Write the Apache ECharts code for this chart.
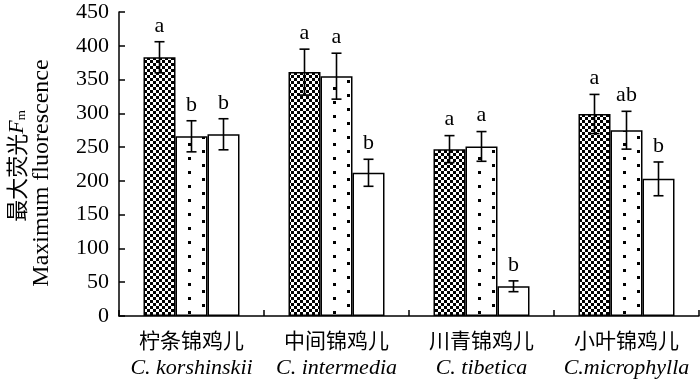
<!DOCTYPE html>
<html>
<head>
<meta charset="utf-8">
<script src="https://cdn.jsdelivr.net/npm/echarts@6/dist/echarts.min.js"></script>
<style>
  html, body { margin: 0; padding: 0; background: #fff; }
  #main { width: 700px; height: 384px; }
</style>
</head>
<body>
<div id="main"></div>
<script>
(function(){
  'use strict';

  // 数据
  var catCn = ['柠条锦鸡儿', '中间锦鸡儿', '川青锦鸡儿', '小叶锦鸡儿'];
  var catEn = ['C. korshinskii', 'C. intermedia', 'C. tibetica', 'C.microphylla'];
  var yTicks = [0, 50, 100, 150, 200, 250, 300, 350, 400, 450];

  var val1 = [383, 361, 247, 299];
  var val2 = [266, 355, 251, 275];
  var val3 = [269, 212, 44, 203];
  var err1 = [23, 34, 20, 29];
  var err2 = [23, 34, 22, 28];
  var err3 = [23, 20, 8, 25];
  var sig1 = ['a', 'a', 'a', 'a'];
  var sig2 = ['b', 'a', 'a', 'ab'];
  var sig3 = ['b', 'b', 'b', 'b'];

  var BAR_W = 32;
  var GRID_L = 119, GRID_R = 1;
  var FONT = 'Liberation Serif';

  // 填充图案
  function checkerPattern(){
    var c = document.createElement('canvas');
    c.width = 6; c.height = 6;
    var g = c.getContext('2d');
    g.fillStyle = '#fff';
    g.fillRect(0, 0, 6, 6);
    g.fillStyle = '#000';
    g.fillRect(0, 0, 3, 3);
    g.fillRect(3, 3, 3, 3);
    return c;
  }
  // 点阵：按每组柱子的位置对齐
  function dotPattern(x0){
    var c = document.createElement('canvas');
    c.width = 28; c.height = 14;
    var g = c.getContext('2d');
    g.fillStyle = '#fff';
    g.fillRect(0, 0, 28, 14);
    g.fillStyle = '#000';
    var a = ((x0 % 28) + 28) % 28;
    var b = (a + 14) % 28;
    g.fillRect(a, 3, 3, 3);
    g.fillRect(b, 10, 3, 3);
    return c;
  }

  var band = (700 - GRID_L - GRID_R) / catCn.length;
  var checker = { image: checkerPattern(), repeat: 'repeat' };

  var series = [];
  series.push({
    type: 'bar', data: val1, barWidth: BAR_W, barGap: '0%', silent: true, z: 2,
    itemStyle: { color: checker, borderColor: '#000', borderWidth: 1.5 }
  });
  series.push({
    type: 'bar', barWidth: BAR_W, barGap: '0%', silent: true, z: 2,
    data: val2.map(function(v, k){
      var left = GRID_L + band * (k + 0.5) - BAR_W / 2;
      return { value: v, itemStyle: { color: { image: dotPattern(Math.round(left + 12.5)), repeat: 'repeat' } } };
    }),
    itemStyle: { borderColor: '#000', borderWidth: 1.5 }
  });
  series.push({
    type: 'bar', data: val3, barWidth: BAR_W, barGap: '0%', silent: true, z: 2,
    itemStyle: { color: '#fff', borderColor: '#000', borderWidth: 1.5 }
  });

  var vals = [val1, val2, val3];
  var errs = [err1, err2, err3];
  var sigs = [sig1, sig2, sig3];

  // 误差线 + 显著性字母
  vals.forEach(function(v, i){
    series.push({
      type: 'custom',
      data: v.map(function(d, k){ return [k, d, errs[i][k]]; }),
      z: 5,
      silent: true,
      renderItem: function(params, api){
        var k = api.value(0), m = api.value(1), e = api.value(2);
        var off = (i - 1) * BAR_W;
        var hi = api.coord([k, m + e]);
        var lo = api.coord([k, m - e]);
        var x = hi[0] + off;
        var cap = 5;
        var st = { stroke: '#000', lineWidth: 1.6 };
        return {
          type: 'group',
          children: [
            { type: 'line', shape: { x1: x, y1: hi[1], x2: x, y2: lo[1] }, style: st },
            { type: 'line', shape: { x1: x - cap, y1: hi[1], x2: x + cap, y2: hi[1] }, style: st },
            { type: 'line', shape: { x1: x - cap, y1: lo[1], x2: x + cap, y2: lo[1] }, style: st },
            { type: 'text', x: x, y: hi[1] - 5,
              style: { text: sigs[i][k], fontFamily: FONT, fontSize: 22, fill: '#000',
                       align: 'center', verticalAlign: 'bottom' } }
          ]
        };
      }
    });
  });

  var myChart = echarts.init(document.getElementById('main'));
  var option = {
    backgroundColor: '#fff',
    animation: false,
    grid: { left: GRID_L, right: GRID_R, top: 12, bottom: 68, containLabel: false },
    xAxis: {
      type: 'category',
      data: catCn,
      axisLine: { lineStyle: { color: '#000', width: 1.5 } },
      axisTick: { show: true, inside: true, length: 6, alignWithLabel: false,
                  lineStyle: { color: '#000', width: 1.5 } },
      axisLabel: {
        interval: 0,
        margin: 10,
        formatter: function(v, idx){
          return '{cn|' + v + '}\n{en|' + catEn[idx] + '}';
        },
        rich: {
          cn: { fontFamily: 'Noto Sans CJK SC', fontSize: 21, color: '#000', lineHeight: 28 },
          en: { fontFamily: FONT, fontStyle: 'italic', fontSize: 22, color: '#000', lineHeight: 28 }
        }
      }
    },
    yAxis: {
      type: 'value',
      min: yTicks[0],
      max: yTicks[yTicks.length - 1],
      interval: yTicks[1] - yTicks[0],
      splitLine: { show: false },
      axisLine: { show: true, lineStyle: { color: '#000', width: 1.5 } },
      axisTick: { show: true, inside: true, length: 6, lineStyle: { color: '#000', width: 1.5 } },
      axisLabel: { margin: 10, fontFamily: FONT, fontSize: 22, color: '#000' }
    },
    graphic: [
      {
        type: 'text', x: 17, y: 166, rotation: Math.PI / 2,
        style: {
          text: '{cn|最大荧光}{f|F}{m|m}',
          align: 'center', verticalAlign: 'middle',
          rich: {
            cn: { fontFamily: 'Noto Sans CJK SC', fontSize: 22, fill: '#000' },
            f: { fontFamily: FONT, fontStyle: 'italic', fontSize: 22, fill: '#000' },
            m: { fontFamily: FONT, fontSize: 13, fill: '#000', padding: [10, 0, 0, 0] }
          }
        }
      },
      {
        type: 'text', x: 42, y: 173, rotation: Math.PI / 2,
        style: {
          text: 'Maximum fluorescence',
          fontFamily: FONT, fontSize: 24, fill: '#000',
          align: 'center', verticalAlign: 'middle'
        }
      }
    ],
    series: series
  };
  myChart.setOption(option);
}());
</script>
</body>
</html>
